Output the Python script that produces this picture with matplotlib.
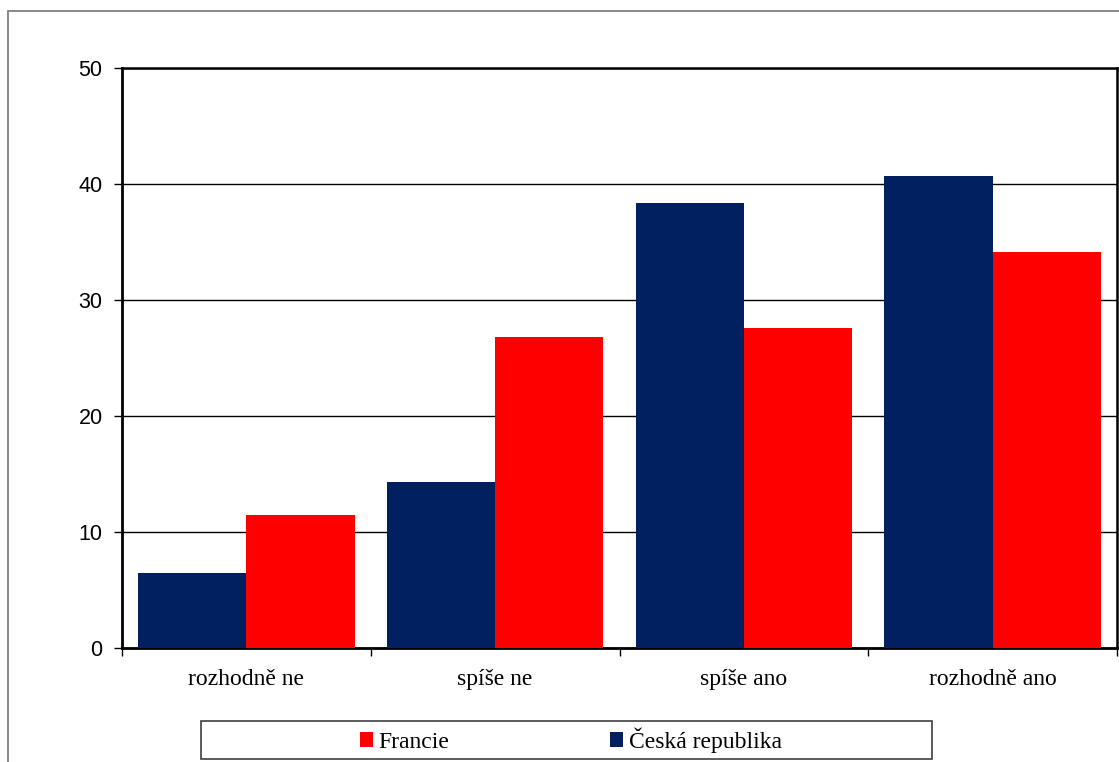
import matplotlib
matplotlib.use("Agg")
import matplotlib.pyplot as plt
from matplotlib.patches import Rectangle
import numpy as np

categories = ["rozhodně ne", "spíše ne", "spíše ano", "rozhodně ano"]
cesko = [6.5, 14.3, 38.4, 40.7]
francie = [11.5, 26.8, 27.6, 34.1]
series_names = ["Francie", "Česká republika"]
yticks = [0, 10, 20, 30, 40, 50]

navy = "#002060"
red = "#ff0000"

W, H = 1119, 762
fig = plt.figure(figsize=(W / 100, H / 100), dpi=100)
fig.patch.set_facecolor("white")

# outer chart frame, running off the right and bottom edges
fig.patches.append(Rectangle((8 / W, -0.05), 1.2, 1 - 11 / H + 0.05,
                             transform=fig.transFigure, fill=False,
                             edgecolor="#7f7f7f", linewidth=1.3))

ax = fig.add_axes([122 / W, 1 - 648 / H, (1117 - 122) / W, (648 - 68) / H])
x = np.arange(len(categories))
bw = 0.435
b_cz = ax.bar(x - bw / 2, cesko, width=bw, color=navy, zorder=3)
b_fr = ax.bar(x + bw / 2, francie, width=bw, color=red, zorder=3)

ax.set_xlim(-0.5, len(categories) - 0.5)
ax.set_ylim(0, 50)
ax.set_yticks(yticks)
ax.set_yticklabels([str(t) for t in yticks], fontfamily="Liberation Sans", fontsize=15.5)
ax.yaxis.grid(True, color="black", linewidth=1.0, zorder=0)
ax.set_axisbelow(True)

# category ticks sit on the boundaries, labels in the middle
ax.set_xticks(np.arange(len(categories) + 1) - 0.5)
ax.set_xticklabels([])
ax.set_xticks(x, minor=True)
ax.set_xticklabels(categories, minor=True, fontfamily="Liberation Serif", fontsize=17)
ax.tick_params(axis="x", which="minor", length=0, pad=15)
ax.tick_params(axis="x", which="major", direction="out", length=6, width=1, color="black")
ax.tick_params(axis="y", direction="out", length=6, width=1, color="black", pad=8)

for side in ["left", "bottom"]:
    ax.spines[side].set_linewidth(2.0)
for side in ["top", "right"]:
    ax.spines[side].set_linewidth(1.8)
for sp in ax.spines.values():
    sp.set_color("black")

# legend box
fig.patches.append(Rectangle((201 / W, 1 - 759 / H), (932 - 201) / W, (759 - 721) / H,
                             transform=fig.transFigure, fill=True, facecolor="white",
                             edgecolor="#404040", linewidth=1.2, zorder=5))
leg = fig.legend([b_fr, b_cz], series_names, loc="center",
                 bbox_to_anchor=(571 / W, 1 - 740 / H), ncol=2, frameon=False,
                 prop={"family": "Liberation Serif", "size": 17},
                 handlelength=0.55, handleheight=0.55, handletextpad=0.25,
                 columnspacing=6.8)
leg.set_zorder(6)

fig.savefig("out.png", dpi=100, facecolor="white")
